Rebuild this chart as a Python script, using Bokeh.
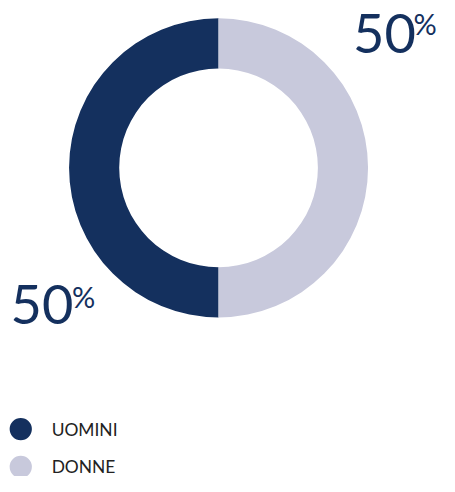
import math
from bokeh.plotting import figure
from bokeh.models import Range1d, ColumnDataSource
from bokeh.core.properties import value
from bokeh.embed import file_html
from bokeh.resources import INLINE

categories = ["UOMINI", "DONNE"]
values = [50, 50]
colors = ["#14305e", "#c8c9dc"]

REF_W, REF_H = 455, 492
W, H = 439, 476
s = H / REF_H

p = figure(width=W, height=H, output_backend="svg", toolbar_location=None,
           x_range=Range1d(0, REF_W), y_range=Range1d(0, REF_H), min_border=0)
p.axis.visible = False
p.grid.visible = False
p.outline_line_color = None
p.background_fill_color = "white"
p.border_fill_color = "white"

def Y(py):
    return REF_H - py

total = sum(values)
starts, ends = [], []
a = math.pi / 2
for v in values:
    starts.append(a)
    a += v / total * 2 * math.pi
    ends.append(a)

src = ColumnDataSource(dict(cat=categories, val=values, color=colors, start=starts, end=ends))
cx, cy = 226, Y(173)
p.annular_wedge(x=cx, y=cy, inner_radius=103, outer_radius=155, start_angle="start",
                end_angle="end", color="color", line_color=None, source=src)

font = value("Lato")
navy = "#14305e"
num = [f"{v}" for v in values]  # UOMINI -> bottom-left, DONNE -> top-right
num_x = [43, 398]
num_y = [Y(314), Y(34)]
pct_x = [74, 428]
pct_y = [Y(306), Y(24)]
p.text(x=num_x, y=num_y, text=num, text_font=font,
       text_font_size=f"{56 * s:.1f}px", text_color=navy,
       text_baseline="middle", text_align="center")
p.text(x=pct_x, y=pct_y, text=["%", "%"], text_font=font,
       text_font_size=f"{30 * s:.1f}px", text_color=navy,
       text_baseline="middle", text_align="left")

leg_y = [Y(443), Y(482)]
p.scatter(x=[21, 21], y=leg_y, size=23 * s, color=colors, line_color=None, marker="circle")
p.text(x=[53, 53], y=leg_y, text=categories, text_font=font,
       text_font_size=f"{18 * s:.1f}px", text_color="#222222",
       text_baseline="middle", text_align="left")

open("out.html", "w").write(file_html(p, INLINE))
